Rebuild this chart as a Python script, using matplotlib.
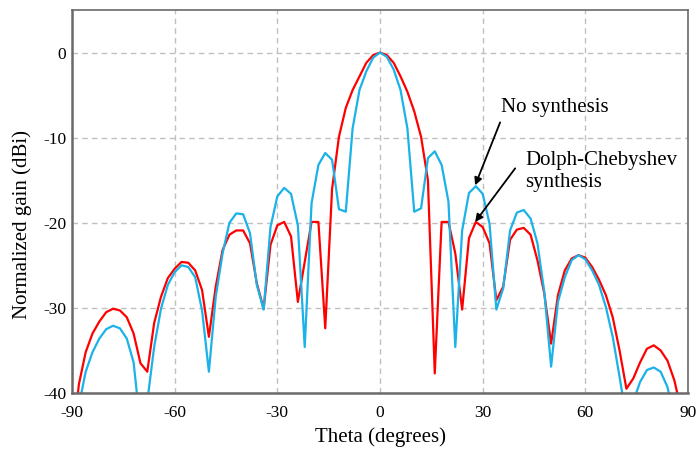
import numpy as np
import matplotlib
matplotlib.use('Agg')
import matplotlib.pyplot as plt

plt.rcParams['axes.unicode_minus'] = False

# angles sampled every 2 degrees
theta = list(range(-90, 92, 2))

# Dolph-Chebyshev synthesis (red)
gain_cheb = [-47, -39, -35.2, -33.0, -31.6, -30.5, -30.1, -30.3, -31.1, -33.0,
             -36.5, -37.5, -31.8, -28.7, -26.5, -25.4, -24.6, -24.7, -25.6, -27.9,
             -33.4, -27.5, -23.2, -21.4, -20.9, -20.9, -22.4, -27.1, -30.1, -22.6,
             -20.3, -19.9, -21.6, -29.3, -24.6, -19.9, -19.9, -32.4, -16.0, -9.9,
             -6.5, -4.4, -2.8, -1.2, -0.3, 0.0, -0.3, -1.2, -2.8, -4.6,
             -6.9, -9.9, -15.0, -37.7, -19.9, -19.9, -23.6, -30.2, -21.8, -19.9,
             -20.5, -22.4, -29.1, -27.5, -22.0, -20.8, -20.6, -21.4, -24.4, -28.3,
             -34.2, -28.5, -25.6, -24.2, -23.8, -24.1, -25.2, -26.7, -28.5, -31.1,
             -35.0, -39.5, -38.3, -36.4, -34.8, -34.4, -35.0, -36.2, -38.5, -42, -47]

# no synthesis (cyan)
gain_none = [-46, -41.5, -37.5, -35.2, -33.6, -32.5, -32.1, -32.4, -33.6, -36.4,
             -44, -41, -34.6, -30.1, -27.3, -25.8, -25.0, -25.2, -26.4, -30.3,
             -37.5, -28.7, -23.6, -20.0, -18.9, -19.0, -21.2, -27.3, -30.2, -20.5,
             -16.9, -15.9, -16.6, -20.3, -34.6, -17.7, -13.2, -11.8, -12.6, -18.4,
             -18.7, -8.9, -4.4, -2.2, -0.6, 0.0, -0.5, -2.0, -4.4, -8.9,
             -18.7, -18.3, -12.4, -11.6, -13.2, -17.5, -34.6, -20.9, -16.5, -15.7,
             -16.6, -20.1, -30.2, -27.7, -20.9, -18.8, -18.5, -19.5, -22.4, -28.1,
             -36.9, -29.3, -26.4, -24.4, -23.8, -24.3, -25.6, -27.3, -29.9, -33.4,
             -38.1, -43, -41, -38.7, -37.3, -37.0, -37.5, -39.3, -43, -47, -50]

serif = ['Liberation Serif', 'DejaVu Serif']

fig = plt.figure(figsize=(6.97, 4.5), dpi=100)
ax = fig.add_axes([0.1033, 0.1267, 0.8838, 0.851])

ax.plot(theta, gain_cheb, color='#ff0000', lw=1.6)
ax.plot(theta, gain_none, color='#1ab2e8', lw=1.6)

ax.set_xlim(-90, 90)
ax.set_ylim(-40, 5)
ax.set_xticks(range(-90, 91, 30))
ax.set_yticks(range(-40, 1, 10))
ax.tick_params(length=0, labelsize=12.5)
ax.tick_params(axis='x', pad=9)
ax.tick_params(axis='y', pad=4)
for lbl in ax.get_xticklabels() + ax.get_yticklabels():
    lbl.set_family(serif)

ax.grid(True, color='#c0c0c0', ls=(0, (4, 3)), lw=1)
for s in ax.spines.values():
    s.set_color('#6a6a6a')
    s.set_linewidth(1.2)
ax.spines['left'].set_linewidth(1.8)
ax.spines['bottom'].set_linewidth(1.8)

ax.set_xlabel('Theta (degrees)', family=serif, fontsize=15, labelpad=4)
ax.set_ylabel('Normalized gain (dBi)', family=serif, fontsize=15, va='center')
ax.yaxis.set_label_coords(-0.081, 0.439)

# annotations
ax.text(35.3, -6.5, 'No synthesis', family=serif, fontsize=15,
        ha='left', va='center')
ax.text(42.4, -14.0, 'Dolph-Chebyshev\nsynthesis', family=serif, fontsize=15,
        ha='left', va='center', linespacing=1.2)
arrow = dict(arrowstyle='-|>', color='black', lw=1.3, mutation_scale=11,
             shrinkA=0, shrinkB=0)
ax.annotate('', xy=(27.8, -15.6), xytext=(35.1, -8.2), arrowprops=arrow)
ax.annotate('', xy=(27.8, -19.9), xytext=(39.5, -13.6), arrowprops=arrow)

fig.savefig('out.png', dpi=100)
